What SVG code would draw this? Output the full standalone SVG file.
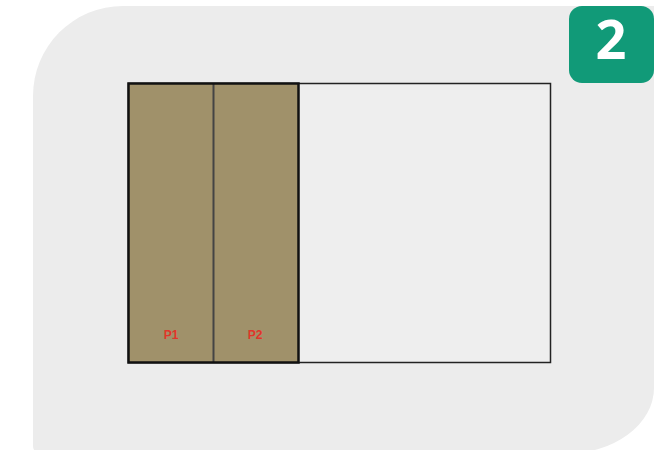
<svg xmlns="http://www.w3.org/2000/svg" width="668" height="450" viewBox="0 0 668 450">
<style>
.lbl{font-family:"Liberation Sans",Arial,sans-serif;font-size:12px;font-weight:bold;fill:#e0352b;text-anchor:middle}
.badge-num{font-family:"Open Sans","Liberation Sans",sans-serif;font-size:54px;font-weight:bold;fill:#ffffff;text-anchor:middle}
</style>
<rect width="668" height="450" fill="#ffffff"/>
<path d="M33,96 A90,90 0 0 1 123,6 L654,6 L654,388 A90,66 0 0 1 564,454 L41,454 A8,8 0 0 1 33,446 Z" fill="#ececec"/>
<g id="badge">
<rect x="569" y="6" width="85" height="77" rx="13" fill="#119a78"/>
<text class="badge-num" x="611" y="59">2</text>
</g>
<g id="container">
<rect x="128.5" y="83.5" width="422" height="279" fill="#eeeeee" stroke="#222" stroke-width="1.5"/>
</g>
<g id="P1">
<rect x="128.5" y="83.5" width="85" height="279" fill="#a0916a"/>
<text class="lbl" x="171" y="339">P1</text>
</g>
<g id="P2">
<rect x="213.5" y="83.5" width="85" height="279" fill="#a0916a"/>
<text class="lbl" x="255" y="339">P2</text>
</g>
<g id="connectors">
<line x1="213.5" y1="84" x2="213.5" y2="362" stroke="#444" stroke-width="2"/>
<rect x="128.5" y="83.5" width="170" height="279" fill="none" stroke="#111" stroke-width="2.5"/>
</g>
</svg>
